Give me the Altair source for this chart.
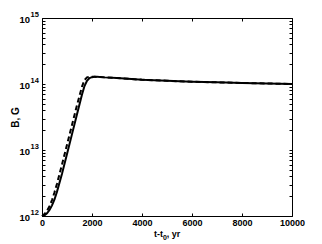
import altair as alt
import pandas as pd

# Solid curve
t_solid = [0, 100, 200, 300, 400, 500, 600, 800, 1000, 1200, 1400, 1600, 1700, 1800,
           1900, 2000, 2100, 2200, 2500, 3000, 4000, 5000, 6000, 7000, 8000, 9000, 10000]
b_solid = [1.0e12, 1.02e12, 1.10e12, 1.23e12, 1.45e12, 1.78e12, 2.34e12, 4.37e12, 8.71e12,
           1.74e13, 3.47e13, 6.92e13, 9.33e13, 1.12e14, 1.23e14, 1.27e14, 1.29e14, 1.29e14,
           1.26e14, 1.23e14, 1.16e14, 1.12e14, 1.08e14, 1.06e14, 1.035e14, 1.02e14, 1.0e14]

# Dashed curve
t_dash = [0, 100, 200, 300, 400, 500, 600, 800, 1000, 1200, 1400, 1600, 1700, 1800,
          1900, 2000, 2100, 2200, 2500, 3000, 4000, 5000, 6000, 7000, 8000, 9000, 10000]
b_dash = [1.0e12, 1.07e12, 1.20e12, 1.41e12, 1.74e12, 2.29e12, 3.09e12, 6.03e12, 1.20e13,
          2.40e13, 4.79e13, 9.12e13, 1.15e14, 1.26e14, 1.29e14, 1.29e14, 1.29e14, 1.28e14,
          1.26e14, 1.23e14, 1.16e14, 1.12e14, 1.08e14, 1.06e14, 1.035e14, 1.02e14, 1.0e14]

x_ticks = [0, 2000, 4000, 6000, 8000, 10000]
y_major = [1e12, 1e13, 1e14, 1e15]
y_exponents = ["12", "13", "14", "15"]
y_minor = [2e12, 3e12, 4e12, 5e12, 6e12, 7e12, 8e12, 9e12,
           2e13, 3e13, 4e13, 5e13, 6e13, 7e13, 8e13, 9e13,
           2e14, 3e14, 4e14, 5e14, 6e14, 7e14, 8e14, 9e14]
x_title_parts = ["t-t", "0", ", yr"]
y_title = "B, G"

df_solid = pd.DataFrame({"t": t_solid, "B": b_solid})
df_dash = pd.DataFrame({"t": t_dash, "B": b_dash})
df_ylab = pd.DataFrame({"B": y_major, "base": ["10"] * len(y_major), "exp": y_exponents})

W, H = 250, 198
FONT = "Liberation Sans"
xs = alt.Scale(domain=[0, 10000], nice=False)
ys = alt.Scale(type="log", domain=[1e12, 1e15], nice=False)

solid = alt.Chart(df_solid).mark_line(color="black", strokeWidth=2).encode(
    x=alt.X("t:Q", scale=xs, axis=alt.Axis(
        orient="bottom", values=x_ticks, format="d", tickSize=0, grid=False, domain=True,
        domainColor="black", labelColor="black", labelFont=FONT, labelFontSize=9,
        labelFontWeight="bold", labelPadding=2, labelFlush=False, title=None)),
    y=alt.Y("B:Q", scale=ys, axis=alt.Axis(
        orient="left", values=y_major, tickSize=0, grid=False, domain=True,
        domainColor="black", labels=False,
        title=y_title, titleFont=FONT, titleFontSize=10, titleFontWeight="bold",
        titleColor="black", titleX=-27, titleBaseline="middle")),
)

all_y = y_major + y_minor

dashed = alt.Chart(df_dash).mark_line(color="black", strokeWidth=2, strokeDash=[5, 3]).encode(
    x=alt.X("t:Q", scale=xs, axis=alt.Axis(
        orient="top", offset=-H, values=x_ticks, tickSize=3, tickColor="black",
        labels=False, domain=False, grid=False, title=None)),
    y=alt.Y("B:Q", scale=ys, axis=alt.Axis(
        orient="right", offset=-W, values=all_y, tickSize=3, tickColor="black",
        labels=False, domain=False, grid=False, title=None)),
)

frame = alt.Chart(df_solid).mark_line(opacity=0).encode(
    x=alt.X("t:Q", scale=xs, axis=alt.Axis(
        orient="bottom", offset=-H, values=x_ticks, tickSize=3, tickColor="black",
        labels=False, domain=True, domainColor="black", grid=False, title=None)),
    y=alt.Y("B:Q", scale=ys, axis=alt.Axis(
        orient="left", offset=-W, values=all_y, tickSize=3, tickColor="black",
        labels=False, domain=True, domainColor="black", grid=False, title=None)),
)

# y tick labels as 10 with superscript exponent
ybase = alt.Chart(df_ylab).mark_text(
    font=FONT, fontSize=9.5, fontWeight="bold", color="black", align="right",
    baseline="middle", dy=1.5
).encode(x=alt.value(-12), y=alt.Y("B:Q", scale=ys, axis=None), text="base:N")

yexp = alt.Chart(df_ylab).mark_text(
    font=FONT, fontSize=7.5, fontWeight="bold", color="black", align="left",
    baseline="middle", dy=-3.5
).encode(x=alt.value(-11.5), y=alt.Y("B:Q", scale=ys, axis=None), text="exp:N")

# x title with subscript
df_xt = pd.DataFrame({"s": x_title_parts})
xt1 = alt.Chart(df_xt).transform_filter("datum.s == 't-t'").mark_text(
    font=FONT, fontSize=9, fontWeight="bold", color="black", align="right",
    baseline="alphabetic").encode(x=alt.value(W / 2 - 4), y=alt.value(H + 21), text="s:N")
xt2 = alt.Chart(df_xt).transform_filter("datum.s == '0'").mark_text(
    font=FONT, fontSize=7, fontWeight="bold", color="black", align="left",
    baseline="alphabetic").encode(x=alt.value(W / 2 - 4), y=alt.value(H + 23.5), text="s:N")
xt3 = alt.Chart(df_xt).transform_filter("datum.s == ', yr'").mark_text(
    font=FONT, fontSize=9, fontWeight="bold", color="black", align="left",
    baseline="alphabetic").encode(x=alt.value(W / 2 - 0.2), y=alt.value(H + 21), text="s:N")

chart = alt.layer(frame, dashed, solid, ybase, yexp, xt1, xt2, xt3).resolve_axis(
    x="independent", y="independent"
).properties(
    width=W, height=H,
    autosize=alt.AutoSizeParams(type="none"),
    padding={"left": 34, "top": 10, "right": 22, "bottom": 28},
).configure_view(strokeOpacity=0)

chart.save("out.html", embed_options={"renderer": "svg", "actions": False})
